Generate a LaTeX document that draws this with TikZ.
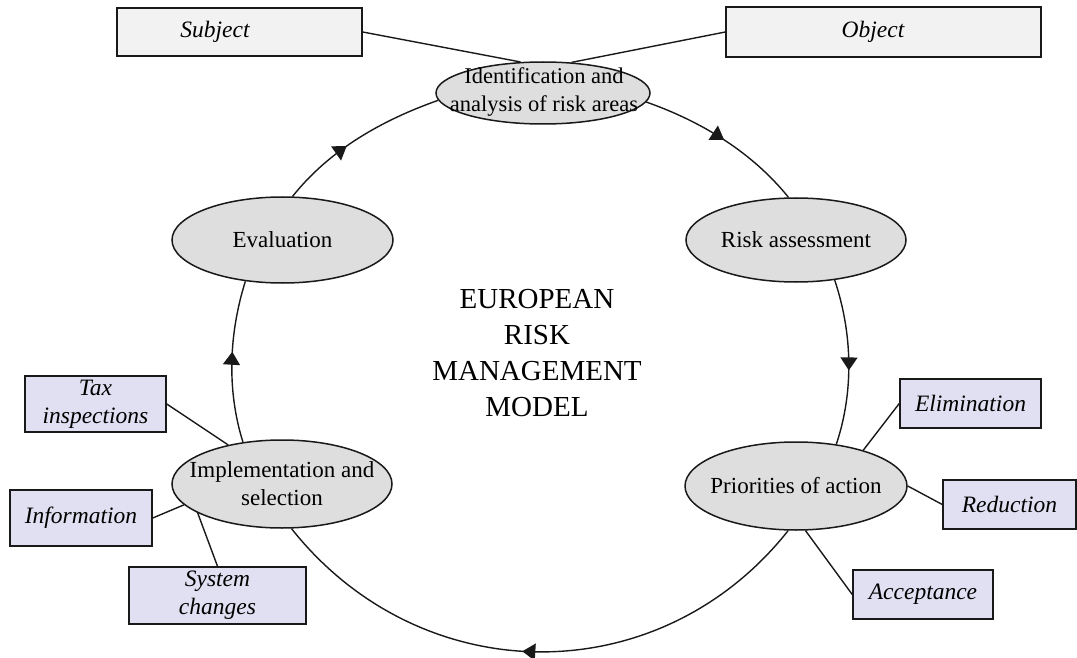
\documentclass[tikz,border=0pt]{standalone}
\usepackage{fontspec}
\setmainfont{Liberation Serif}
\usetikzlibrary{shapes.geometric,arrows.meta,decorations.markings}
\definecolor{bubblefill}{RGB}{222,222,222}
\definecolor{greybox}{RGB}{242,242,242}
\definecolor{lavbox}{RGB}{224,224,242}
\definecolor{ink}{RGB}{25,25,25}
\begin{document}
\begin{tikzpicture}[x=1pt,y=-1pt,
  bubble/.style={ellipse, draw=ink, line width=1.5pt, fill=bubblefill, inner sep=0pt},
  btext/.style={align=center, font=\fontsize{23}{28}\selectfont, inner sep=0pt},
  itext/.style={align=center, font=\fontsize{23.5}{28}\selectfont\itshape, inner sep=0pt},
  topbox/.style={rectangle, draw=ink, line width=1.5pt, fill=greybox, inner sep=0pt},
  actbox/.style={rectangle, draw=ink, line width=1.5pt, fill=lavbox, inner sep=0pt, align=center, font=\fontsize{23.5}{28}\selectfont\itshape},
  link/.style={draw=ink, line width=1.4pt},
  cyc/.style={link, postaction={decorate}, decoration={markings, mark=at position #1 with {\arrow{Triangle[length=13pt,width=17pt]}}}}
]
\useasboundingbox (0,0) rectangle (1077,658);

% process ellipses
\node[bubble, minimum width=214pt, minimum height=62pt] (ident) at (543,93) {};
\node[btext, font=\fontsize{22.5}{27.5}\selectfont] (identT) at (544,92) {Identification and\\analysis of risk areas};
\node[bubble, minimum width=220pt, minimum height=84pt] (risk) at (796,240) {};
\node[btext] (riskT) at (risk) {Risk assessment};
\node[bubble, minimum width=222pt, minimum height=88pt] (prior) at (796,486) {};
\node[btext] (priorT) at (prior) {Priorities of action};
\node[bubble, minimum width=220pt, minimum height=88pt] (impl) at (282,484) {};
\node[btext] (implT) at (impl) {Implementation and\\selection};
\node[bubble, minimum width=221pt, minimum height=86pt] (eval) at (282.5,240) {};
\node[btext] (evalT) at (eval) {Evaluation};

% title
\node[align=center, font=\fontsize{29}{36}\selectfont] (title) at (537,353) {EUROPEAN\\RISK\\MANAGEMENT\\MODEL};

% top boxes
\node[topbox, minimum width=245pt, minimum height=48pt] (subj) at (239.5,32) {};
\node[itext] (subjT) at (215,32) {Subject};
\node[topbox, minimum width=315pt, minimum height=50pt] (obj) at (883.5,32) {};
\node[itext] (objT) at (873,32) {Object};

% action boxes
\node[actbox, minimum width=141pt, minimum height=56pt] (tax) at (95.5,404) {Tax\\inspections};
\node[actbox, minimum width=142pt, minimum height=56pt] (info) at (81,518) {Information};
\node[actbox, minimum width=177pt, minimum height=57pt] (sys) at (217.5,595.5) {System\\changes};
\node[actbox, minimum width=141pt, minimum height=49pt] (elim) at (970.5,403.5) {Elimination};
\node[actbox, minimum width=133pt, minimum height=49pt] (red) at (1009.5,504.5) {Reduction};
\node[actbox, minimum width=140pt, minimum height=49pt] (acc) at (923,594.5) {Acceptance};

% cycle
\draw[cyc=0.5] (ident.-5) to[out=-19.4, in=128.9, looseness=0.87] (risk.100);
\draw[cyc=0.55] (risk.-46) to[out=-71.5, in=71.5, looseness=0.87] (prior.46);
\draw[cyc=0.53] (prior.-100) to[out=-128.4, in=-51.6, looseness=1.07] (impl.-78);
\draw[cyc=0.56] (impl.133) to[out=107.4, in=-107.4, looseness=0.87] (eval.228);
\draw[cyc=0.42] (eval.77) to[out=51.6, in=199.4, looseness=0.87] (ident.184);

% links
\draw[link] (subj.east) -- (ident.126);
\draw[link] (obj.west) -- (ident.47);
\draw[link] (tax.east) -- (impl.144);
\draw[link] (info.east) -- (impl.192);
\draw[link] (sys.north) -- (impl.199);
\draw[link] (elim.west) -- (prior.28);
\draw[link] (prior.east) -- (red.west);
\draw[link] (prior.-78) -- (acc.west);
\end{tikzpicture}
\end{document}
